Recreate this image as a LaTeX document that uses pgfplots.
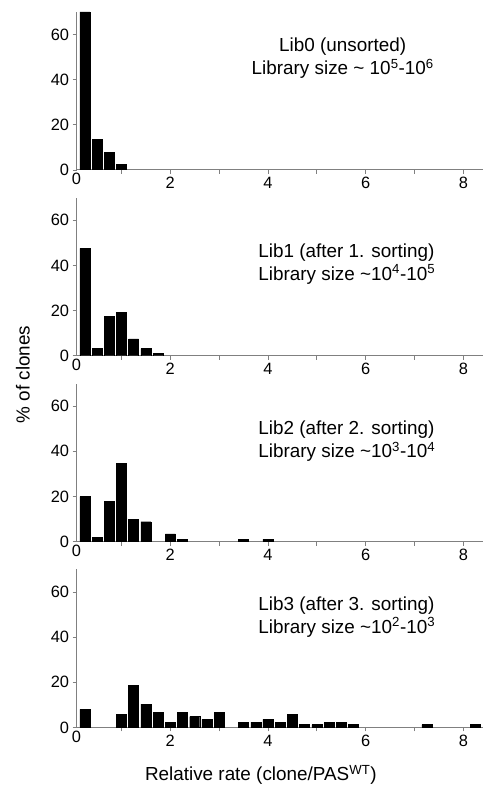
\documentclass[border=0pt]{standalone}
\usepackage{fontspec}
\setmainfont{Liberation Sans}
\usepackage{pgfplots}
\pgfplotsset{compat=1.18}
\usepgfplotslibrary{groupplots}
\usetikzlibrary{calc}

% bins are 0.25 wide, centred at multiples of 0.25
\pgfplotstableread{
x y
0.25 70
0.50 13.5
0.75 7.9
1.00 2.4
}\libzero
\pgfplotstableread{
x y
0.25 47.6
0.50 3.2
0.75 17.4
1.00 19.3
1.25 7.5
1.50 3.2
1.75 1.0
}\libone
\pgfplotstableread{
x y
0.25 19.9
0.50 2.0
0.75 17.7
1.00 34.5
1.25 9.8
1.50 8.8
2.00 3.4
2.25 0.9
3.50 1.0
4.00 1.0
}\libtwo
\pgfplotstableread{
x y
0.25 8.0
1.00 5.8
1.25 18.5
1.50 10.3
1.75 6.8
2.00 2.3
2.25 6.8
2.50 4.8
2.75 3.5
3.00 6.8
3.50 2.3
3.75 2.3
4.00 3.5
4.25 2.3
4.50 5.8
4.75 1.2
5.00 1.2
5.25 2.3
5.50 2.3
5.75 1.2
7.25 1.2
8.25 1.2
}\libthree

\pgfplotsset{histbar/.style={ybar, bar width=0.205, bar shift=0pt, fill=black, draw=black, line width=0.4pt}}

\begin{document}
\begin{tikzpicture}
\begin{groupplot}[
  group style={group size=1 by 4, vertical sep=28pt},
  width=409pt, height=159pt, scale only axis,
  xmin=0.08, xmax=8.4, ymin=0, ymax=70,
  axis x line=bottom, axis y line=left,
  axis line style={-, gray, line width=1pt},
  xtick={2,4,6,8}, minor xtick={1,3,5,7},
  extra x ticks={0.08}, extra x tick labels={0},
  extra x tick style={major tick length=0pt},
  ytick={0,20,40,60},
  tick align=outside,
  major tick length=4pt, minor tick length=4pt,
  every tick/.style={gray, line width=0.8pt},
  tick label style={font=\fontsize{16.5}{20}\selectfont, black},
  /pgf/number format/assume math mode=true,
]
\nextgroupplot
\addplot[histbar] table {\libzero};
\node[align=center, font=\fontsize{19}{23}\selectfont] at (axis cs:5.53,49.5)
  {Lib0 (unsorted)\\Library size \textasciitilde{} 10\textsuperscript{5}-10\textsuperscript{6}};

\nextgroupplot
\addplot[histbar] table {\libone};
\node[anchor=west, inner sep=0pt, align=left, font=\fontsize{19}{23}\selectfont] at (axis cs:3.8,40.7)
  {Lib1 (after 1. sorting)\\Library size \textasciitilde10\textsuperscript{4}-10\textsuperscript{5}};

\nextgroupplot
\addplot[histbar] table {\libtwo};
\node[anchor=west, inner sep=0pt, align=left, font=\fontsize{19}{23}\selectfont] at (axis cs:3.8,44.5)
  {Lib2 (after 2. sorting)\\Library size \textasciitilde10\textsuperscript{3}-10\textsuperscript{4}};

\nextgroupplot
\addplot[histbar] table {\libthree};
\node[anchor=west, inner sep=0pt, align=left, font=\fontsize{19}{23}\selectfont] at (axis cs:3.8,49)
  {Lib3 (after 3. sorting)\\Library size \textasciitilde10\textsuperscript{2}-10\textsuperscript{3}};
\end{groupplot}

\node[rotate=90, font=\fontsize{19}{23}\selectfont]
  at ($(group c1r1.north west)!0.5!(group c1r4.south west)+(-54pt,-5pt)$) {\% of clones};
\node[font=\fontsize{19}{23}\selectfont]
  at ($(group c1r4.south)+(-19pt,-48pt)$) {Relative rate (clone/PAS\textsuperscript{WT})};

\path ($(group c1r1.north west)+(-77pt,12pt)$) rectangle ($(group c1r4.south east)+(0pt,-56pt)$);
\end{tikzpicture}
\end{document}
